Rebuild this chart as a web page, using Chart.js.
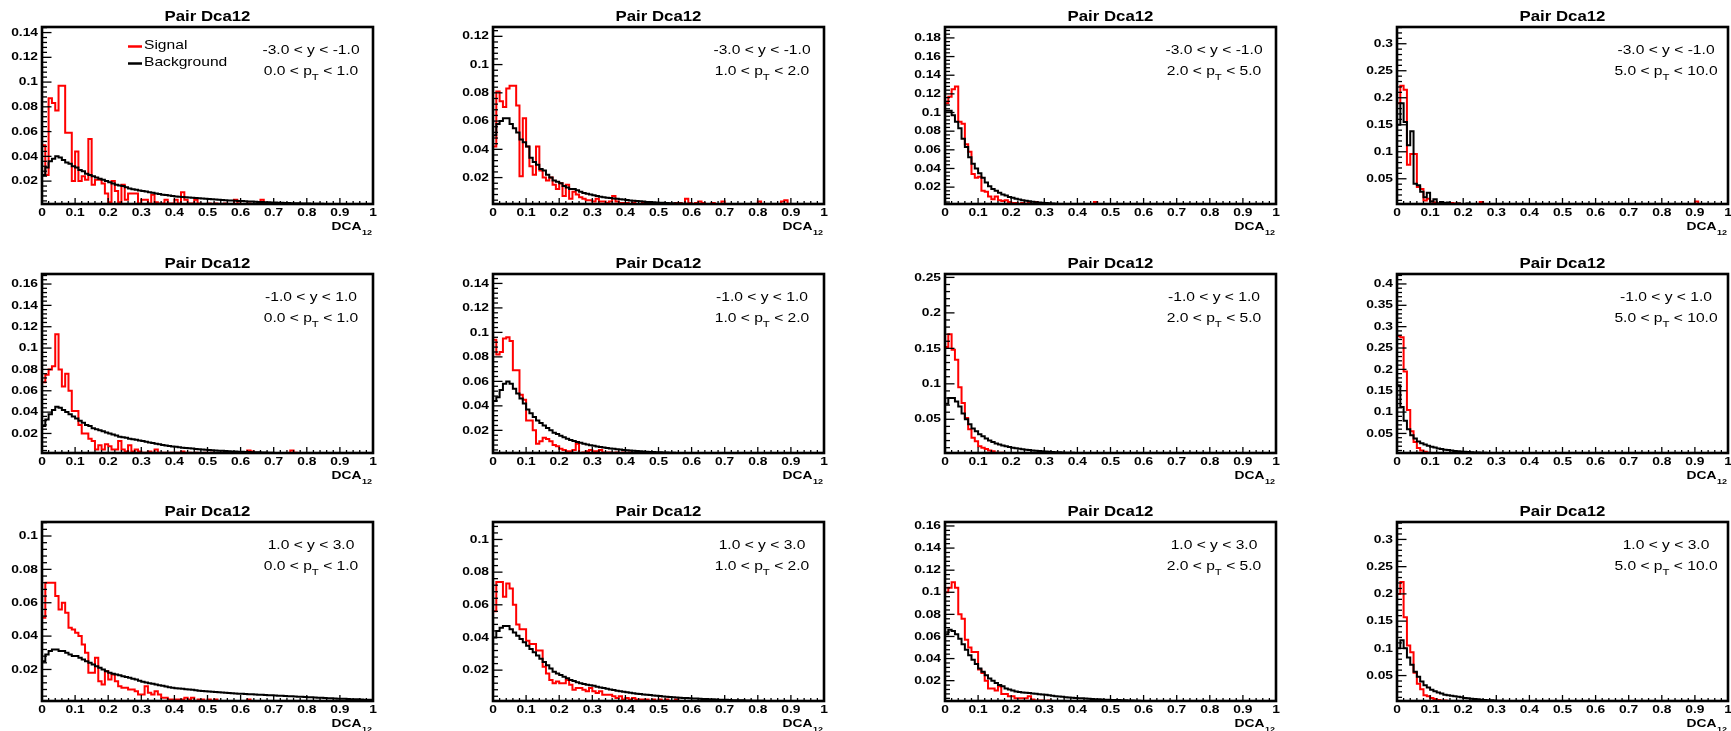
<!DOCTYPE html>
<html><head><meta charset="utf-8">
<script src="https://cdn.jsdelivr.net/npm/chart.js@4.4.1/dist/chart.umd.min.js"></script>
<style>
html,body{margin:0;padding:0;background:#fff;overflow:hidden;width:1731px;height:731px;position:relative;}
canvas{position:absolute;}
</style></head><body>
<script>
// ---------------- DATA (bin contents, bins of 0.01 in DCA12 starting at 0) ----------------
const titleText = 'Pair Dca12';
const xAxisTitle = 'DCA', xAxisSub = '12';
const legendLabels = ['Signal', 'Background'];
const rapidityLabels = ['-3.0 < y < -1.0', '-1.0 < y < 1.0', '1.0 < y < 3.0'];
const ptLow = ['0.0', '1.0', '2.0', '5.0'];
const ptHigh = ['1.0', '2.0', '5.0', '10.0'];
const xTickLabels = ['0','0.1','0.2','0.3','0.4','0.5','0.6','0.7','0.8','0.9','1'];
const binWidth = 0.01;

// row A: -3 < y < -1
const sigA1 = [0.049,0.025,0.087,0.083,0.077,0.097,0.097,0.059,0.059,0.020,
 0.044,0.020,0.024,0.021,0.054,0.017,0.021,0.021,0.018,0.010,
 0.003,0.020,0.012,0.003,0.017,0.005,0.010,0.010,0.010,0.002,
 0.005,0.005,0.002,0.009,0.003,0.002,0.002,0.005,0.002,0.002,
 0.005,0.002,0.011,0.005,0.002,0.002,0.005,0.002,0.000,0.000,
 0.002,0.000,0.002,0.000,0.000,0.002,0.000,0.000,0.005,0.002,
 0.000,0.000,0.002,0.000,0.000,0.000,0.005,0.000];
const bkgA1 = [0.025,0.031,0.036,0.038,0.040,0.039,0.037,0.035,0.034,0.032,
 0.031,0.029,0.028,0.026,0.025,0.024,0.023,0.022,0.021,0.020,
 0.019,0.018,0.017,0.0165,0.016,0.015,0.014,0.0135,0.013,0.0125,
 0.012,0.0115,0.011,0.0105,0.010,0.0095,0.009,0.0087,0.0083,0.0080,
 0.0076,0.0074,0.0072,0.0070,0.0068,0.0066,0.0063,0.0061,0.0059,0.0057,
 0.0055,0.0053,0.0051,0.0049,0.0047,0.0046,0.0044,0.0043,0.0041,0.0040,
 0.0039,0.0037,0.0036,0.0035,0.0033,0.0032,0.0031,0.0030,0.0029,0.0028,
 0.0027,0.0026,0.0025,0.0024,0.0023,0.0022,0.0022,0.0021,0.0020,0.0020,
 0.0019,0.0018,0.0018,0.0017,0.0017,0.0016,0.0016,0.0015,0.0015,0.0014];
const sigA2 = [0.042,0.081,0.074,0.070,0.083,0.085,0.085,0.071,0.021,0.062,
 0.042,0.028,0.022,0.042,0.025,0.020,0.018,0.020,0.015,0.012,
 0.016,0.007,0.015,0.005,0.010,0.008,0.006,0.005,0.004,0.004,
 0.003,0.005,0.003,0.003,0.002,0.003,0.007,0.003,0.002,0.002,
 0.002,0.001,0.002,0.001,0.001,0.002,0.001,0.001,0.001,0.001,
 0.002,0.001,0.002,0.001,0.001,0.002,0.002,0.001,0.005,0.002,
 0.001,0.002,0.003,0.002,0.001,0.001,0.002,0.001,0.001,0.003,
 0.001,0.001,0.001,0.001,0.001,0.001,0.001,0.001,0.001,0.001,
 0.003,0.001,0.001,0.001,0.001,0.001,0.001,0.003,0.004,0.001];
const bkgA2 = [0.050,0.058,0.060,0.062,0.062,0.058,0.055,0.052,0.047,0.045,
 0.042,0.034,0.031,0.029,0.026,0.025,0.022,0.020,0.018,0.017,
 0.016,0.014,0.013,0.012,0.012,0.011,0.010,0.009,0.0085,0.0080,
 0.0075,0.0070,0.0065,0.0060,0.0058,0.0055,0.0052,0.0050,0.0047,0.0044,
 0.0041,0.0038,0.0036,0.0034,0.0032,0.0030,0.0028,0.0027,0.0025,0.0024,
 0.0022,0.0021,0.0020,0.0019,0.0018,0.0017,0.0016,0.0015,0.0014,0.0013];
const sigA3 = [0.110,0.117,0.125,0.128,0.090,0.088,0.066,0.058,0.034,0.030,
 0.031,0.016,0.015,0.010,0.007,0.010,0.006,0.005,0.006,0.004,
 0.003,0.003,0.002,0.003,0.002,0.004,0.002,0.004,0.002,0.002,
 0.002,0.001,0.001,0.002,0.001,0.002,0.001,0.001,0.001,0.001,
 0.001,0.001,0.001,0.001,0.002,0.004];
const bkgA3 = [0.102,0.102,0.097,0.090,0.083,0.072,0.063,0.052,0.045,0.040,
 0.035,0.030,0.025,0.021,0.018,0.016,0.014,0.012,0.011,0.0095,
 0.0085,0.0075,0.0067,0.0060,0.0054,0.0048,0.0043,0.0039,0.0035,0.0032,
 0.0029,0.0026,0.0024,0.0022,0.0020,0.0019,0.0018];
const sigA4 = [0.190,0.222,0.215,0.076,0.096,0.096,0.035,0.031,0.010,0.013,
 0.008,0.006,0.004,0.005,0.004,0.003,0.005,0.004,0.004,0.002,
 0.003,0.002,0.002,0.001,0.002,0.007,0.001,0.001,0.001,0.001,
 0,0,0,0,0,0,0,0,0,0, 0,0,0,0,0,0,0,0,0,0, 0,0,0,0,0,0,0,0,0,0,
 0,0,0,0,0,0,0,0,0,0, 0,0,0,0,0,0,0,0,0,0, 0,0,0,0,0,0,0,0,0,0,
 0.008];
const bkgA4 = [0.150,0.190,0.155,0.112,0.138,0.041,0.038,0.026,0.016,0.024,
 0.008,0.012,0.004,0.007,0.005,0.006,0.003,0.003,0.004,0.002,
 0.003,0.004,0.002,0.002,0.001,0.002,0.001,0.002,0.001,0.001];

// row B: -1 < y < 1
const sigB1 = [0.068,0.075,0.080,0.083,0.113,0.080,0.064,0.076,0.060,0.041,
 0.041,0.028,0.020,0.020,0.015,0.013,0.005,0.009,0.005,0.010,
 0.008,0.005,0.005,0.013,0.005,0.003,0.009,0.003,0.005,0.003,
 0.002,0.002,0.003,0.002,0.005,0.002,0.002,0.002,0.002,0.002,
 0.002,0.002,0.003,0.002,0.002,0.001,0.002,0.001,0.001,0.002,
 0.001,0.002,0.001,0.001,0.002,0.001,0.001,0.001,0.001,0.001,
 0.001,0.002,0.004,0.003,0.001,0.001,0.001,0.001,0.001,0.001,
 0.001,0.001,0.001,0.001,0.001,0.004,0.002];
const bkgB1 = [0.027,0.033,0.038,0.042,0.045,0.044,0.042,0.040,0.038,0.036,
 0.034,0.032,0.030,0.028,0.027,0.025,0.024,0.023,0.022,0.021,
 0.020,0.019,0.018,0.017,0.0165,0.016,0.015,0.0145,0.014,0.0135,
 0.013,0.0122,0.0115,0.011,0.0104,0.0098,0.0093,0.0088,0.0083,0.0079,
 0.0075,0.0071,0.0067,0.0064,0.0061,0.0058,0.0055,0.0052,0.0050,0.0047,
 0.0045,0.0043,0.0041,0.0039,0.0037,0.0035,0.0034,0.0032,0.0031,0.0029,
 0.0028,0.0027,0.0026,0.0025,0.0024,0.0023,0.0022,0.0021,0.0020,0.0019,
 0.0018,0.0017,0.0017];
const sigB2 = [0.094,0.082,0.084,0.095,0.096,0.093,0.069,0.069,0.049,0.045,
 0.028,0.028,0.020,0.009,0.011,0.014,0.013,0.011,0.008,0.007,
 0.005,0.004,0.003,0.003,0.004,0.009,0.001,0.002,0.003,0.004,
 0.003,0.003,0.004,0.002,0.002,0.002,0.001,0.002,0.001,0.002,
 0.001,0.002,0.001,0.001,0.002];
const bkgB2 = [0.044,0.047,0.053,0.058,0.060,0.058,0.054,0.050,0.046,0.042,
 0.037,0.034,0.031,0.028,0.026,0.024,0.022,0.020,0.018,0.017,
 0.0155,0.0143,0.0132,0.0122,0.0113,0.0105,0.0098,0.0091,0.0085,0.0079,
 0.0074,0.0069,0.0064,0.0060,0.0056,0.0052,0.0049,0.0046,0.0043,0.0040,
 0.0038,0.0035,0.0033,0.0031,0.0029,0.0027,0.0026,0.0024,0.0023,0.0022,
 0.0021,0.0020,0.0019,0.0018,0.0017,0.0016,0.0015];
const sigB3 = [0.152,0.170,0.148,0.134,0.095,0.073,0.052,0.036,0.024,0.019,
 0.012,0.010,0.008,0.006,0.005,0.003,0.003,0.003,0.002,0.002,
 0.002,0.001,0.002,0.001,0.001,0.002];
const bkgB3 = [0.072,0.080,0.080,0.075,0.068,0.058,0.050,0.043,0.037,0.033,
 0.029,0.026,0.023,0.020,0.018,0.016,0.0145,0.013,0.012,0.011,
 0.010,0.0092,0.0085,0.0078,0.0072,0.0066,0.0061,0.0056,0.0052,0.0048,
 0.0045,0.0042,0.0039,0.0036,0.0034,0.0032,0.0030,0.0028,0.0027,0.0025];
const sigB4 = [0.278,0.275,0.195,0.105,0.055,0.030,0.016,0.010,0.007,0.005,
 0.004,0.003,0.003,0.002,0.002,0.002,0.001];
const bkgB4 = [0.163,0.112,0.080,0.060,0.046,0.038,0.031,0.027,0.024,0.021,
 0.019,0.017,0.015,0.0135,0.012,0.011,0.010,0.009,0.0082,0.0075,
 0.0069,0.0064,0.0059,0.0055,0.0051,0.0048,0.0045,0.0042];

// row C: 1 < y < 3
const sigC1 = [0.051,0.072,0.072,0.072,0.064,0.056,0.060,0.054,0.045,0.044,
 0.042,0.040,0.035,0.030,0.018,0.018,0.027,0.013,0.011,0.019,
 0.014,0.017,0.013,0.010,0.009,0.009,0.008,0.008,0.007,0.005,
 0.005,0.010,0.006,0.005,0.007,0.005,0.003,0.003,0.002,0.002,
 0.002,0.002,0.002,0.003,0.002,0.003,0.001,0.002,0.002,0.001,
 0.002,0.001,0.002,0.001,0.001,0.001,0.001,0.001,0.001,0.001,
 0.001,0.001,0.002];
const bkgC1 = [0.025,0.029,0.031,0.032,0.032,0.031,0.031,0.030,0.029,0.028,
 0.028,0.027,0.026,0.025,0.024,0.023,0.022,0.021,0.020,0.019,
 0.018,0.0175,0.017,0.0165,0.016,0.0155,0.015,0.0145,0.014,0.0133,
 0.0127,0.0122,0.0118,0.0114,0.0110,0.0106,0.0102,0.0098,0.0094,0.0090,
 0.0088,0.0086,0.0084,0.0082,0.0080,0.0078,0.0076,0.0073,0.0071,0.0069,
 0.0068,0.0066,0.0065,0.0063,0.0062,0.0060,0.0059,0.0057,0.0056,0.0055,
 0.0054,0.0053,0.0052,0.0051,0.0050,0.0049,0.0048,0.0047,0.0046,0.0045,
 0.0044,0.0043,0.0042,0.0041,0.0040,0.0039,0.0038,0.0037,0.0036,0.0035,
 0.0034,0.0033,0.0032,0.0031,0.0030,0.0029,0.0028,0.0027,0.0026,0.0025,
 0.0024,0.0024,0.0023,0.0022,0.0021,0.0021,0.0020,0.0019,0.0019,0.0018];
const sigC2 = [0.056,0.074,0.074,0.065,0.073,0.070,0.060,0.048,0.045,0.045,
 0.038,0.036,0.036,0.032,0.032,0.022,0.018,0.014,0.012,0.013,
 0.012,0.012,0.014,0.011,0.008,0.009,0.009,0.008,0.007,0.009,
 0.007,0.006,0.007,0.005,0.005,0.005,0.004,0.003,0.004,0.002,
 0.003,0.002,0.003,0.002,0.002,0.002,0.002,0.001,0.002,0.001,
 0.002,0.001,0.002,0.001,0.001,0.002];
const bkgC2 = [0.040,0.044,0.046,0.047,0.047,0.045,0.043,0.041,0.039,0.037,
 0.035,0.033,0.031,0.029,0.027,0.025,0.023,0.021,0.019,0.018,
 0.017,0.016,0.015,0.014,0.0133,0.0126,0.0120,0.0115,0.0110,0.0107,
 0.0104,0.0099,0.0094,0.0090,0.0086,0.0082,0.0078,0.0074,0.0071,0.0068,
 0.0065,0.0062,0.0059,0.0056,0.0054,0.0051,0.0049,0.0047,0.0045,0.0043,
 0.0041,0.0039,0.0037,0.0036,0.0034,0.0033,0.0031,0.0030,0.0029,0.0028,
 0.0027,0.0026,0.0025,0.0024,0.0023,0.0022,0.0021,0.0020,0.0019,0.0018,
 0.0018,0.0017,0.0016,0.0016,0.0015,0.0015,0.0014,0.0014,0.0013,0.0013,
 0.0012,0.0012,0.0011,0.0011];
const sigC3 = [0.100,0.104,0.109,0.104,0.080,0.076,0.057,0.050,0.046,0.046,
 0.030,0.027,0.020,0.013,0.013,0.011,0.015,0.008,0.008,0.006,
 0.006,0.004,0.004,0.004,0.004,0.006,0.003,0.002,0.002,0.002,
 0.001,0.002];
const bkgC3 = [0.062,0.066,0.065,0.062,0.058,0.053,0.048,0.043,0.039,0.035,
 0.031,0.028,0.025,0.022,0.020,0.018,0.016,0.015,0.013,0.012,
 0.011,0.0103,0.0097,0.0093,0.0090,0.0088,0.0085,0.0082,0.0078,0.0075,
 0.0072,0.0068,0.0064,0.0060,0.0057,0.0054,0.0051,0.0048,0.0046,0.0044,
 0.0042,0.0040,0.0038,0.0036,0.0034,0.0032,0.0031,0.0029,0.0028,0.0027,
 0.0026,0.0025,0.0024,0.0023,0.0022,0.0021,0.0020,0.0019,0.0018,0.0017,
 0.0016];
const sigC4 = [0.200,0.222,0.157,0.105,0.093,0.055,0.035,0.025,0.014,0.012,
 0.009,0.007,0.005,0.004,0.004,0.003,0.002,0.002,0.002,0.001,0.002];
const bkgC4 = [0.100,0.115,0.100,0.083,0.070,0.057,0.048,0.039,0.032,0.028,
 0.024,0.021,0.019,0.017,0.015,0.014,0.013,0.012,0.011,0.010,
 0.0090,0.0082,0.0075,0.0069,0.0063,0.0058,0.0053,0.0049,0.0045,0.0042,
 0.0039,0.0036,0.0034];

// y-axis ranges and tick labels per panel (row-major)
const yMinList = [0.0015,0.0013,0.0019,0.0033, 0.0017,0.0015,0.0025,0.0042, 0.0011,0.0011,0.0016,0.0033];
const yMaxList = [0.1445,0.1266,0.1917,0.331, 0.1694,0.1477,0.2548,0.4233, 0.1084,0.1107,0.1636,0.332];
const yTicksA1 = ['0.02','0.04','0.06','0.08','0.1','0.12','0.14'];
const yTicksA2 = ['0.02','0.04','0.06','0.08','0.1','0.12'];
const yTicksA3 = ['0.02','0.04','0.06','0.08','0.1','0.12','0.14','0.16','0.18'];
const yTicksA4 = ['0.05','0.1','0.15','0.2','0.25','0.3'];
const yTicksB1 = ['0.02','0.04','0.06','0.08','0.1','0.12','0.14','0.16'];
const yTicksB2 = ['0.02','0.04','0.06','0.08','0.1','0.12','0.14'];
const yTicksB3 = ['0.05','0.1','0.15','0.2','0.25'];
const yTicksB4 = ['0.05','0.1','0.15','0.2','0.25','0.3','0.35','0.4'];
const yTicksC1 = ['0.02','0.04','0.06','0.08','0.1'];
const yTicksC2 = ['0.02','0.04','0.06','0.08','0.1'];
const yTicksC3 = ['0.02','0.04','0.06','0.08','0.1','0.12','0.14','0.16'];
const yTicksC4 = ['0.05','0.1','0.15','0.2','0.25','0.3'];

// ---------------- LAYOUT ----------------
const FRAME_LEFT = [42, 493, 945, 1397];
const FRAME_TOP = [27, 273.5, 521.5];
const FRAME_H = [177, 179, 179];
const FRAME_W = 331;
const PADL = 50, PADR = 50, PADT = 32, PADB = 42;
const SX = 1.2; // horizontal text stretch of the original picture
const FONT = '"Liberation Sans", Arial, Helvetica, sans-serif';
const RED = '#ff0000', BLACK = '#000000';

const sigs = [sigA1,sigA2,sigA3,sigA4, sigB1,sigB2,sigB3,sigB4, sigC1,sigC2,sigC3,sigC4];
const bkgs = [bkgA1,bkgA2,bkgA3,bkgA4, bkgB1,bkgB2,bkgB3,bkgB4, bkgC1,bkgC2,bkgC3,bkgC4];
const yTickSets = [yTicksA1,yTicksA2,yTicksA3,yTicksA4, yTicksB1,yTicksB2,yTicksB3,yTicksB4, yTicksC1,yTicksC2,yTicksC3,yTicksC4];

function histPoints(vals) {
  const pts = [{x: 0, y: 0}];
  for (let i = 0; i < vals.length; i++) pts.push({x: i * binWidth, y: vals[i]});
  const end = vals.length * binWidth;
  pts.push({x: end, y: vals[vals.length - 1]});
  pts.push({x: end, y: 0});
  return pts;
}

function sText(ctx, str, x, y, align, font) {
  ctx.save();
  ctx.translate(x, y);
  ctx.scale(SX, 1);
  ctx.font = font;
  ctx.textAlign = align;
  ctx.textBaseline = 'middle';
  ctx.fillStyle = '#000';
  ctx.fillText(str, 0, 0);
  ctx.restore();
}
function sWidth(ctx, str, font) {
  ctx.save(); ctx.font = font;
  const w = ctx.measureText(str).width * SX;
  ctx.restore();
  return w;
}
function seg(ctx, x1, y1, x2, y2) { ctx.beginPath(); ctx.moveTo(x1, y1); ctx.lineTo(x2, y2); ctx.stroke(); }

function framePlugin(info) {
  return {
    id: 'rootFrame',
    afterDraw(chart) {
      const {ctx, chartArea: a} = chart;
      const xs = chart.scales.x, ys = chart.scales.y;
      ctx.save();
      ctx.strokeStyle = '#000';
      // x ticks (inside, from bottom)
      ctx.lineWidth = 1.3;
      const xv = xTickLabels.map(parseFloat);
      for (let k = 0; k < xv.length; k++) {
        const px = xs.getPixelForValue(xv[k]);
        seg(ctx, px, a.bottom, px, a.bottom - 6);
        if (k < xv.length - 1) {
          const st = (xv[k + 1] - xv[k]) / 5;
          for (let m = 1; m < 5; m++) {
            const mp = xs.getPixelForValue(xv[k] + m * st);
            seg(ctx, mp, a.bottom, mp, a.bottom - 3);
          }
        }
      }
      // y ticks (inside, from left)
      const yv = info.yTicks.map(parseFloat);
      const ystep = yv.length > 1 ? yv[1] - yv[0] : yv[0];
      const minor = ystep / 5;
      for (let m = 0; m * minor <= info.yMax + 1e-9; m++) {
        const v = m * minor;
        if (v < info.yMin) continue;
        const py = ys.getPixelForValue(v);
        const isMajor = (m % 5 === 0);
        seg(ctx, a.left, py, a.left + (isMajor ? 9.5 : 5), py);
      }
      // frame
      ctx.lineWidth = 2.6;
      ctx.strokeRect(a.left, a.top, a.right - a.left, a.bottom - a.top);
      // tick labels
      const tickFont = 'bold 11.5px ' + FONT;
      info.yTicks.forEach((lab, i) => {
        sText(ctx, lab, a.left - 4, ys.getPixelForValue(yv[i]), 'right', tickFont);
      });
      xTickLabels.forEach((lab, i) => {
        sText(ctx, lab, xs.getPixelForValue(xv[i]), a.bottom + 9, 'center', tickFont);
      });
      // axis title DCA_12
      const subFont = 'bold 7.5px ' + FONT, tFont = 'bold 11.5px ' + FONT;
      const wSub = sWidth(ctx, xAxisSub, subFont);
      sText(ctx, xAxisSub, a.right - 1, a.bottom + 28.5, 'right', subFont);
      sText(ctx, xAxisTitle, a.right - 1.5 - wSub, a.bottom + 22.5, 'right', tFont);
      // title
      sText(ctx, titleText, (a.left + a.right) / 2, a.top - 10, 'center', 'bold 14px ' + FONT);
      // kinematic labels
      const txtFont = '13px ' + FONT, tSub = '9.5px ' + FONT;
      const cx = a.left + 269;
      sText(ctx, info.yLabel, cx, a.top + 23.5, 'center', txtFont);
      const p1 = ptLow[info.col] + ' < p', p2 = ' < ' + ptHigh[info.col];
      const w1 = sWidth(ctx, p1, txtFont), wT = sWidth(ctx, 'T', tSub), w2 = sWidth(ctx, p2, txtFont);
      let sx0 = cx - (w1 + wT + w2) / 2;
      sText(ctx, p1, sx0, a.top + 44, 'left', txtFont);
      sText(ctx, 'T', sx0 + w1, a.top + 50, 'left', tSub);
      sText(ctx, p2, sx0 + w1 + wT, a.top + 44, 'left', txtFont);
      // legend
      if (info.legend) {
        const ds = chart.data.datasets;
        const rows = [[ds[1], legendLabels[0], a.top + 19.5], [ds[0], legendLabels[1], a.top + 36.5]];
        rows.forEach(([d, lab, yy]) => {
          ctx.strokeStyle = d.borderColor; ctx.lineWidth = 2.5;
          seg(ctx, a.left + 86, yy, a.left + 100, yy);
          sText(ctx, lab, a.left + 102, yy - 1, 'left', txtFont);
        });
      }
      ctx.restore();
    }
  };
}

for (let r = 0; r < 3; r++) {
  for (let c = 0; c < 4; c++) {
    const i = r * 4 + c;
    const cv = document.createElement('canvas');
    const w = FRAME_W + PADL + PADR, h = FRAME_H[r] + PADT + PADB;
    cv.width = w; cv.height = h;
    cv.style.width = w + 'px'; cv.style.height = h + 'px';
    cv.style.left = (FRAME_LEFT[c] - PADL) + 'px';
    cv.style.top = (FRAME_TOP[r] - PADT) + 'px';
    document.body.appendChild(cv);
    const info = {col: c, yMin: yMinList[i], yMax: yMaxList[i], yTicks: yTickSets[i],
                  yLabel: rapidityLabels[r], legend: (i === 0)};
    new Chart(cv, {
      type: 'line',
      data: {
        datasets: [
          {label: legendLabels[1], data: histPoints(bkgs[i]), borderColor: BLACK, borderWidth: 2,
           stepped: true, pointRadius: 0, fill: false, order: 1},
          {label: legendLabels[0], data: histPoints(sigs[i]), borderColor: RED, borderWidth: 2,
           stepped: true, pointRadius: 0, fill: false, order: 2}
        ]
      },
      options: {
        responsive: false,
        animation: false,
        events: [],
        layout: {padding: {left: PADL, right: PADR, top: PADT, bottom: PADB}},
        scales: {
          x: {type: 'linear', min: 0, max: 1, display: false},
          y: {type: 'linear', min: info.yMin, max: info.yMax, display: false}
        },
        plugins: {legend: {display: false}, tooltip: {enabled: false}, title: {display: false}}
      },
      plugins: [framePlugin(info)]
    });
  }
}
</script>
</body></html>
